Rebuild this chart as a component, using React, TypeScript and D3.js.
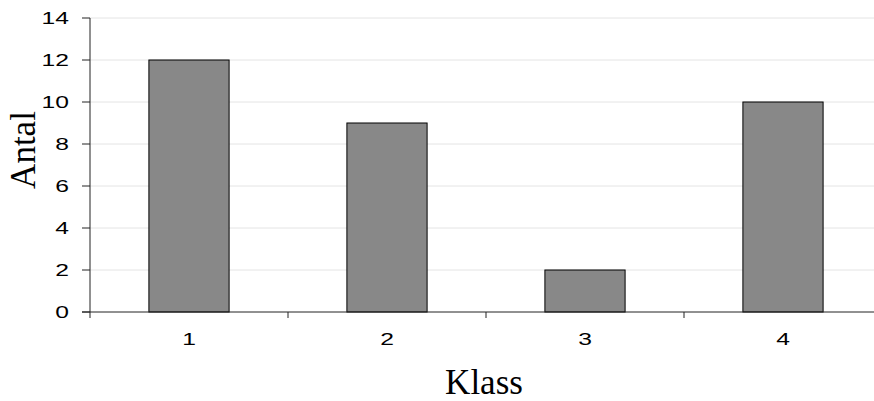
import React from "react";
import * as d3 from "d3";

const categories = ["1", "2", "3", "4"];
const values = [12, 9, 2, 10];
const yTicks = [0, 2, 4, 6, 8, 10, 12, 14];
const xTitle = "Klass";
const yTitle = "Antal";

export default function App() {
  const W = 874, H = 401;
  const left = 90, right = 882, top = 18, bottom = 312;
  const x = d3.scaleBand<string>().domain(categories).range([left, right]).paddingInner(0).paddingOuter(0);
  const y = d3.scaleLinear().domain([0, 14]).range([bottom, top]);
  const bw = x.bandwidth() * 0.405;
  const boundaries = [...categories.map((c) => x(c) as number), right];
  const numFont = "Liberation Sans, Arial, sans-serif";
  return (
    <svg width={W} height={H} style={{ position: "absolute", left: 0, top: 0, display: "block", background: "#fff" }}>
      {yTicks.filter((t) => t > 0).map((t) => (
        <line key={"g" + t} x1={left} x2={W} y1={y(t)} y2={y(t)} stroke="#e4e4e4" strokeWidth={1} />
      ))}
      {categories.map((c, i) => {
        const cx = (x(c) as number) + x.bandwidth() / 2;
        return (
          <rect key={c} x={cx - bw / 2} y={y(values[i])} width={bw} height={bottom - y(values[i])}
            fill="#888888" stroke="#000" strokeWidth={1} />
        );
      })}
      <line x1={left} x2={left} y1={top} y2={bottom} stroke="#222" strokeWidth={1} />
      <line x1={left - 8} x2={right} y1={bottom} y2={bottom} stroke="#222" strokeWidth={1} />
      {yTicks.map((t) => (
        <g key={"t" + t}>
          <line x1={left - 8} x2={left} y1={y(t)} y2={y(t)} stroke="#222" strokeWidth={1} />
          <text transform={`translate(69,${y(t)}) scale(1.45,1)`} dy="0.36em" textAnchor="end"
            fontFamily={numFont} fontSize={17} fill="#000">{t}</text>
        </g>
      ))}
      {boundaries.map((b, i) => (
        <line key={"b" + i} x1={b} x2={b} y1={bottom} y2={bottom + 6} stroke="#222" strokeWidth={1} />
      ))}
      {categories.map((c) => (
        <text key={"l" + c} transform={`translate(${(x(c) as number) + x.bandwidth() / 2},344.5) scale(1.45,1)`}
          textAnchor="middle" fontFamily={numFont} fontSize={17} fill="#000">{c}</text>
      ))}
      <text x={484} y={394} textAnchor="middle" fontFamily="Liberation Serif, Times New Roman, serif" fontSize={35} fill="#000">{xTitle}</text>
      <text transform="translate(35,150) rotate(-90)" textAnchor="middle" fontFamily="Liberation Serif, Times New Roman, serif" fontSize={35} fill="#000">{yTitle}</text>
    </svg>
  );
}
